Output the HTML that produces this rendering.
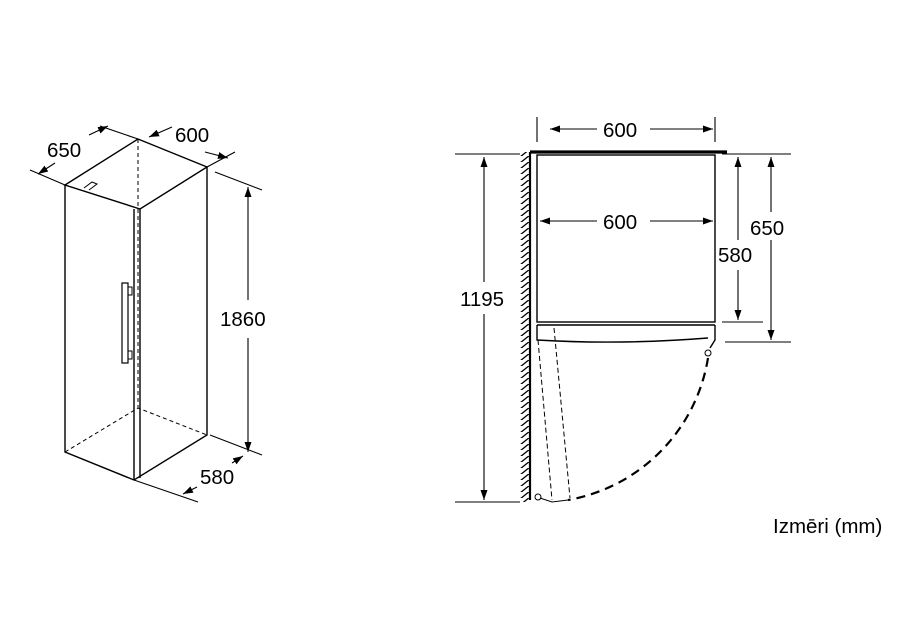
<!DOCTYPE html>
<html><head><style>body{margin:0;background:#fff}svg{display:block}text{font-family:"Liberation Sans",sans-serif;fill:#000}</style></head>
<body>
<svg width="914" height="642" viewBox="0 0 914 642" xmlns="http://www.w3.org/2000/svg">
<defs>
<marker id="a" viewBox="0 0 10 10" refX="10" refY="5" markerWidth="10" markerHeight="10" orient="auto-start-reverse" markerUnits="userSpaceOnUse"><path d="M0,1.5L10,5L0,8.5z" fill="#000"/></marker>
<pattern id="h" width="10" height="6" patternUnits="userSpaceOnUse"><path d="M0,7L10,-1" stroke="#000" stroke-width="1.3"/></pattern>
</defs>
<g fill="none" stroke="#000" stroke-width="1.4">
<path d="M65,185L138,139L207,167L140,209L65,185Z"/>
<path d="M65,185V452L134,480L207,435V167"/>
<path d="M134,209V480M140,209V478"/>
<path d="M84,188L92,182L97,184L89,190" stroke-width="1"/>
<rect x="122" y="283" width="6" height="80" stroke-width="1.2"/>
<path d="M128,287h4v8h-4M128,351h4v8h-4" stroke-width="1"/>
<g stroke-dasharray="4,3" stroke-width="1"><path d="M138,139V408M65,452L138,408L207,435"/></g>
<g stroke-width="1.1">
<path d="M30,170L65,185M100,126L138,139M207,167L235,152M215,172L262,190M210,435L262,455M134,480L198,502"/>
<path d="M38,174L55,163" marker-start="url(#a)"/>
<path d="M89,135L108,126" marker-end="url(#a)"/>
<path d="M149,137L172,127" marker-start="url(#a)"/>
<path d="M205,152L228,158" marker-end="url(#a)"/>
<path d="M248,300V187" marker-end="url(#a)"/>
<path d="M248,338V452" marker-end="url(#a)"/>
<path d="M183,494L197,487" marker-start="url(#a)"/>
<path d="M232,463L243,456" marker-end="url(#a)"/>
</g>
<rect x="520" y="152" width="9" height="350" fill="url(#h)" stroke="none"/>
<path d="M530,152V500" stroke-width="2.2"/>
<path d="M530,152H727" stroke-width="3.2"/>
<rect x="537" y="155" width="178" height="167"/>
<path d="M537,325H715M537,325V340Q620,345 708,338M715,325V340L710,348"/>
<circle cx="708" cy="353" r="3" stroke-width="1"/>
<circle cx="538" cy="497" r="3" stroke-width="1"/>
<path d="M540,498L552,502L568,500" stroke-width="1"/>
<path d="M708,358A172,172 0 0 1 568,500" stroke-dasharray="9,6" stroke-width="2.2"/>
<g stroke-dasharray="5,3" stroke-width="1"><path d="M538,340L552,500M554,328L570,498"/></g>
<g stroke-width="1.1">
<path d="M537,117V142M715,117V142M455,154H520M455,502H520M722,154H791M722,322H763M725,342H791"/>
<path d="M550,129H597" marker-start="url(#a)"/>
<path d="M650,129H713" marker-end="url(#a)"/>
<path d="M540,221H597" marker-start="url(#a)"/>
<path d="M650,221H713" marker-end="url(#a)"/>
<path d="M484,157V282" marker-start="url(#a)"/>
<path d="M484,314V500" marker-end="url(#a)"/>
<path d="M738,157V240" marker-start="url(#a)"/>
<path d="M738,270V320" marker-end="url(#a)"/>
<path d="M771,157V212" marker-start="url(#a)"/>
<path d="M771,240V340" marker-end="url(#a)"/>
</g>
</g>
<g font-size="20.5">
<text x="47" y="157">650</text>
<text x="175" y="142">600</text>
<text x="220" y="326">1860</text>
<text x="200" y="484">580</text>
<text x="603" y="137">600</text>
<text x="603" y="229">600</text>
<text x="460" y="306">1195</text>
<text x="718" y="262">580</text>
<text x="750" y="235">650</text>
<text x="773" y="533">Izmēri (mm)</text>
</g>
</svg>
</body></html>
